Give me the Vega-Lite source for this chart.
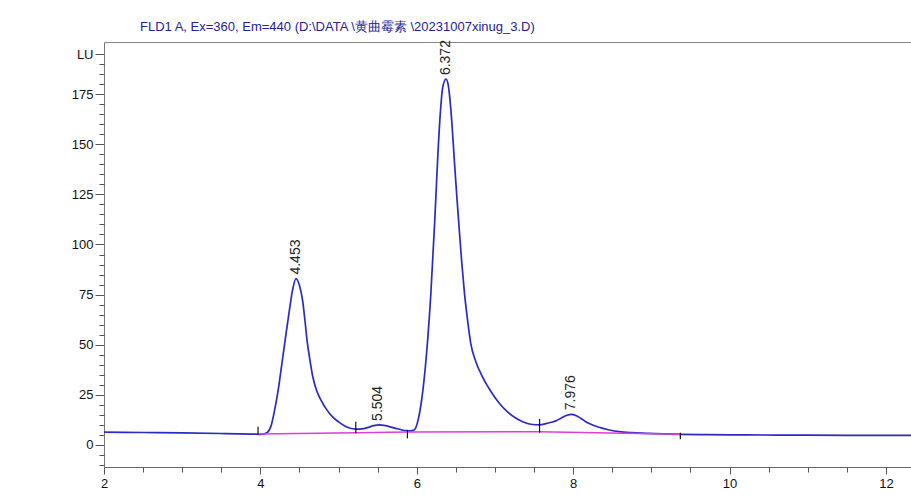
{
  "$schema": "https://vega.github.io/schema/vega-lite/v6.json",
  "width": 807,
  "height": 425,
  "autosize": {"type": "none"},
  "padding": {"left": 104, "top": 42, "right": 0, "bottom": 28},
  "background": "#ffffff",
  "config": {"view": {"stroke": null}, "font": "Liberation Sans"},
  "title": {"text": "FLD1 A, Ex=360, Em=440 (D:\\DATA      \\黄曲霉素 \\20231007xinug_3.D)", "anchor": "start", "frame": "group", "dx": 36, "offset": 6, "fontSize": 13, "fontWeight": "normal", "color": "#22229a", "font": "Liberation Sans"},
  "datasets": {
    "trace": [
      {"t": 2.0, "v": 6.4}, {"t": 2.5, "v": 6.2}, {"t": 3.0, "v": 6.0}, {"t": 3.5, "v": 5.7}, {"t": 3.9, "v": 5.4}, {"t": 4.0, "v": 5.3},
      {"t": 4.05, "v": 5.6}, {"t": 4.09, "v": 6.3}, {"t": 4.14, "v": 10}, {"t": 4.18, "v": 17}, {"t": 4.23, "v": 28}, {"t": 4.28, "v": 42},
      {"t": 4.33, "v": 56}, {"t": 4.37, "v": 67}, {"t": 4.41, "v": 77}, {"t": 4.455, "v": 83}, {"t": 4.5, "v": 79.5}, {"t": 4.54, "v": 72},
      {"t": 4.57, "v": 62}, {"t": 4.6, "v": 51}, {"t": 4.635, "v": 42}, {"t": 4.67, "v": 34}, {"t": 4.72, "v": 27}, {"t": 4.775, "v": 22.4},
      {"t": 4.85, "v": 17.5}, {"t": 4.92, "v": 14.1}, {"t": 5.0, "v": 11.5}, {"t": 5.09, "v": 9.2}, {"t": 5.22, "v": 7.9}, {"t": 5.3, "v": 8.0},
      {"t": 5.38, "v": 8.8}, {"t": 5.45, "v": 9.6}, {"t": 5.52, "v": 10.0}, {"t": 5.6, "v": 9.6}, {"t": 5.67, "v": 8.9}, {"t": 5.73, "v": 8.3},
      {"t": 5.8, "v": 7.6}, {"t": 5.86, "v": 7.1}, {"t": 5.92, "v": 7.0}, {"t": 5.97, "v": 7.6}, {"t": 6.02, "v": 13}, {"t": 6.074, "v": 26},
      {"t": 6.13, "v": 48}, {"t": 6.18, "v": 75.6}, {"t": 6.23, "v": 112}, {"t": 6.266, "v": 142}, {"t": 6.3, "v": 165}, {"t": 6.33, "v": 178},
      {"t": 6.373, "v": 182.5}, {"t": 6.4, "v": 180}, {"t": 6.425, "v": 172}, {"t": 6.45, "v": 160}, {"t": 6.48, "v": 142}, {"t": 6.51, "v": 125},
      {"t": 6.54, "v": 109}, {"t": 6.575, "v": 91}, {"t": 6.61, "v": 75.6}, {"t": 6.65, "v": 62}, {"t": 6.69, "v": 50.7}, {"t": 6.76, "v": 41},
      {"t": 6.84, "v": 34}, {"t": 6.95, "v": 26.5}, {"t": 7.055, "v": 20.8}, {"t": 7.16, "v": 16.5}, {"t": 7.27, "v": 13.3}, {"t": 7.37, "v": 11.3},
      {"t": 7.48, "v": 10.2}, {"t": 7.57, "v": 10.0}, {"t": 7.65, "v": 10.6}, {"t": 7.72, "v": 11.3}, {"t": 7.78, "v": 12.0}, {"t": 7.85, "v": 13.5},
      {"t": 7.92, "v": 14.8}, {"t": 7.976, "v": 15.3}, {"t": 8.04, "v": 14.6}, {"t": 8.1, "v": 13.2}, {"t": 8.16, "v": 11.6}, {"t": 8.24, "v": 10.1},
      {"t": 8.33, "v": 8.8}, {"t": 8.45, "v": 7.6}, {"t": 8.59, "v": 6.6}, {"t": 8.75, "v": 6.1}, {"t": 8.93, "v": 5.8}, {"t": 9.15, "v": 5.5},
      {"t": 9.37, "v": 5.3}, {"t": 9.7, "v": 5.1}, {"t": 10.2, "v": 5.0}, {"t": 11.0, "v": 4.9}, {"t": 11.8, "v": 4.8}, {"t": 12.32, "v": 4.8}
    ],
    "baseline": [
      {"t": 3.98, "v": 5.5}, {"t": 5.22, "v": 6.1}, {"t": 5.88, "v": 6.4}, {"t": 7.57, "v": 6.6}, {"t": 9.37, "v": 5.3}
    ],
    "markers": [
      {"t": 3.97, "lo": 5.5, "hi": 9.1},
      {"t": 5.22, "lo": 5.8, "hi": 11.6},
      {"t": 5.88, "lo": 3.3, "hi": 7.5},
      {"t": 7.57, "lo": 6.1, "hi": 13.0},
      {"t": 9.37, "lo": 2.8, "hi": 6.1}
    ],
    "peaks": [
      {"t": 4.453, "h": 83, "label": "4.453"},
      {"t": 5.504, "h": 10, "label": "5.504"},
      {"t": 6.372, "h": 182.5, "label": "6.372"},
      {"t": 7.976, "h": 15.3, "label": "7.976"}
    ]
  },
  "resolve": {"axis": {"x": "independent", "y": "independent"}},
  "layer": [
    {
      "data": {"name": "trace"},
      "mark": {"type": "line", "color": "#2a2ac4", "strokeWidth": 1.7, "interpolate": "monotone"},
      "encoding": {
        "x": {"field": "t", "type": "quantitative", "scale": {"domain": [2, 12.32], "nice": false, "zero": false},
          "axis": {"orient": "bottom", "values": [2, 4, 6, 8, 10, 12], "tickSize": 7, "tickColor": "#555", "domainColor": "#666", "labelFontSize": 13, "labelColor": "#111", "labelPadding": 3, "labelFlush": false, "labelOverlap": false, "title": null, "grid": false, "labelFont": "Liberation Sans"}},
        "y": {"field": "v", "type": "quantitative", "scale": {"domain": [-11, 201], "nice": false, "zero": false},
          "axis": {"orient": "left", "values": [0, 25, 50, 75, 100, 125, 150, 175, 195], "labelExpr": "datum.value == 195 ? 'LU' : datum.label", "tickSize": 9, "tickColor": "#555", "domainColor": "#777", "labelFontSize": 13, "labelColor": "#111", "labelPadding": 2, "labelFlush": false, "labelOverlap": false, "title": null, "grid": false, "labelFont": "Liberation Sans"}}
      }
    },
    {
      "data": {"name": "baseline"},
      "mark": {"type": "line", "color": "#e03cd8", "strokeWidth": 1.5},
      "encoding": {
        "x": {"field": "t", "type": "quantitative", "scale": {"domain": [2, 12.32], "nice": false, "zero": false},
          "axis": {"orient": "bottom", "values": [2.5, 3, 3.5, 4.5, 5, 5.5, 6.5, 7, 7.5, 8.5, 9, 9.5, 10.5, 11, 11.5], "tickSize": 5, "tickColor": "#555", "labels": false, "domain": false, "title": null, "grid": false}},
        "y": {"field": "v", "type": "quantitative", "scale": {"domain": [-11, 201], "nice": false, "zero": false},
          "axis": {"orient": "left", "values": [-10, -5, 5, 10, 15, 20, 30, 35, 40, 45, 55, 60, 65, 70, 80, 85, 90, 95, 105, 110, 115, 120, 130, 135, 140, 145, 155, 160, 165, 170, 180, 185, 190], "tickSize": 5, "tickColor": "#555", "labels": false, "domain": false, "title": null, "grid": false}}
      }
    },
    {
      "data": {"name": "markers"},
      "mark": {"type": "rule", "color": "#111", "strokeWidth": 1.2},
      "encoding": {
        "x": {"field": "t", "type": "quantitative", "scale": {"domain": [2, 12.32], "nice": false, "zero": false},
          "axis": {"orient": "top", "ticks": false, "labels": false, "domainColor": "#888", "title": null, "grid": false}},
        "y": {"field": "lo", "type": "quantitative", "scale": {"domain": [-11, 201], "nice": false, "zero": false}, "axis": null},
        "y2": {"field": "hi"}
      }
    },
    {
      "data": {"name": "peaks"},
      "mark": {"type": "text", "angle": 270, "align": "left", "baseline": "middle", "dx": 4, "fontSize": 14, "color": "#222", "font": "Liberation Sans"},
      "encoding": {
        "x": {"field": "t", "type": "quantitative", "scale": {"domain": [2, 12.32], "nice": false, "zero": false}, "axis": null},
        "y": {"field": "h", "type": "quantitative", "scale": {"domain": [-11, 201], "nice": false, "zero": false}, "axis": null},
        "text": {"field": "label"}
      }
    }
  ]
}
